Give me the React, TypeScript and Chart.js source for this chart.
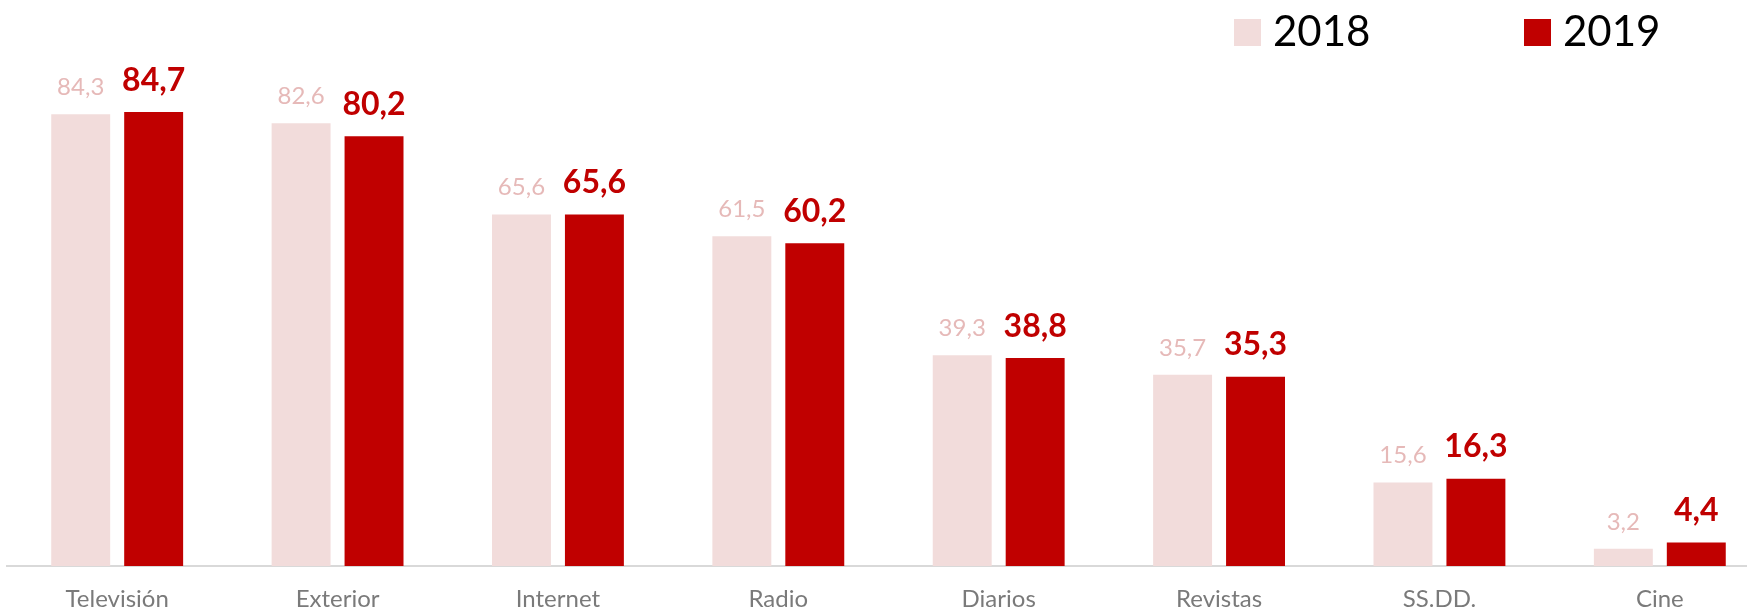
import React, { useEffect, useRef } from "react";
import { Chart, registerables } from "chart.js";

Chart.register(...registerables);

const categories = ["Televisión", "Exterior", "Internet", "Radio", "Diarios", "Revistas", "SS.DD.", "Cine"];
const values2018 = [84.3, 82.6, 65.6, 61.5, 39.3, 35.7, 15.6, 3.2];
const values2019 = [84.7, 80.2, 65.6, 60.2, 38.8, 35.3, 16.3, 4.4];
const seriesLabels = ["2018", "2019"];

const COLOR_2018 = "#F2DCDB";
const COLOR_2019 = "#C00000";
const LABEL_2018 = "#E6B9B8";
const FONT = "Lato, 'Open Sans', sans-serif";

const fmt = (v: number) => v.toFixed(1).replace(".", ",");

const valueLabelPlugin = {
  id: "valueLabels",
  afterDatasetsDraw(chart: any) {
    const ctx = chart.ctx;
    ctx.save();
    ctx.textAlign = "center";
    ctx.textBaseline = "alphabetic";
    chart.data.datasets.forEach((ds: any, di: number) => {
      const meta = chart.getDatasetMeta(di);
      meta.data.forEach((bar: any, i: number) => {
        const v = ds.data[i];
        if (di === 0) {
          ctx.font = `400 24px ${FONT}`;
          ctx.fillStyle = LABEL_2018;
          ctx.fillText(fmt(v), bar.x, bar.y - 19);
        } else {
          ctx.font = `700 32px ${FONT}`;
          ctx.fillStyle = COLOR_2019;
          ctx.fillText(fmt(v), bar.x, bar.y - 21.5);
        }
      });
    });
    ctx.restore();
  },
};

const legendPlugin = {
  id: "customLegend",
  afterDraw(chart: any) {
    const ctx = chart.ctx;
    ctx.save();
    const items = [{ x: 1234 }, { x: 1524 }];
    chart.data.datasets.forEach((ds: any, i: number) => {
      const it = items[i];
      ctx.fillStyle = ds.backgroundColor;
      ctx.fillRect(it.x, 19, 27, 27);
      ctx.fillStyle = "#000000";
      ctx.font = `400 42px ${FONT}`;
      ctx.textAlign = "left";
      ctx.textBaseline = "alphabetic";
      ctx.fillText(ds.label, it.x + 39, 46);
    });
    ctx.restore();
  },
};

export default function App() {
  const ref = useRef<HTMLCanvasElement | null>(null);

  useEffect(() => {
    if (!ref.current) return;
    const chart = new Chart(ref.current, {
      type: "bar",
      data: {
        labels: categories,
        datasets: [
          {
            label: seriesLabels[0],
            data: values2018,
            backgroundColor: COLOR_2018,
            borderWidth: 0,
            categoryPercentage: 0.662,
            barPercentage: 0.808,
          },
          {
            label: seriesLabels[1],
            data: values2019,
            backgroundColor: COLOR_2019,
            borderWidth: 0,
            categoryPercentage: 0.662,
            barPercentage: 0.808,
          },
        ],
      },
      options: {
        responsive: false,
        animation: false,
        devicePixelRatio: 1,
        layout: { padding: { left: 7, right: 30, top: 30, bottom: 7 } },
        plugins: {
          legend: { display: false },
          tooltip: { enabled: false },
        },
        scales: {
          x: {
            grid: { display: false },
            border: { display: true, color: "#D9D9D9", width: 2 },
            ticks: {
              color: "#7A7A7A",
              font: { family: FONT, size: 24 },
              padding: 11,
              maxRotation: 0,
              autoSkip: false,
            },
            afterFit: (scale: any) => {
              scale.height = 67;
            },
          },
          y: {
            display: false,
            min: 0,
            max: 100,
          },
        },
      },
      plugins: [valueLabelPlugin, legendPlugin],
    });
    return () => chart.destroy();
  }, []);

  return (
    <div
      style={{
        position: "fixed",
        left: 0,
        top: 0,
        width: 1747,
        height: 612,
        overflow: "hidden",
        background: "#ffffff",
      }}
    >
      <canvas ref={ref} width={1800} height={640} style={{ display: "block", width: 1800, height: 640 }} />
    </div>
  );
}
